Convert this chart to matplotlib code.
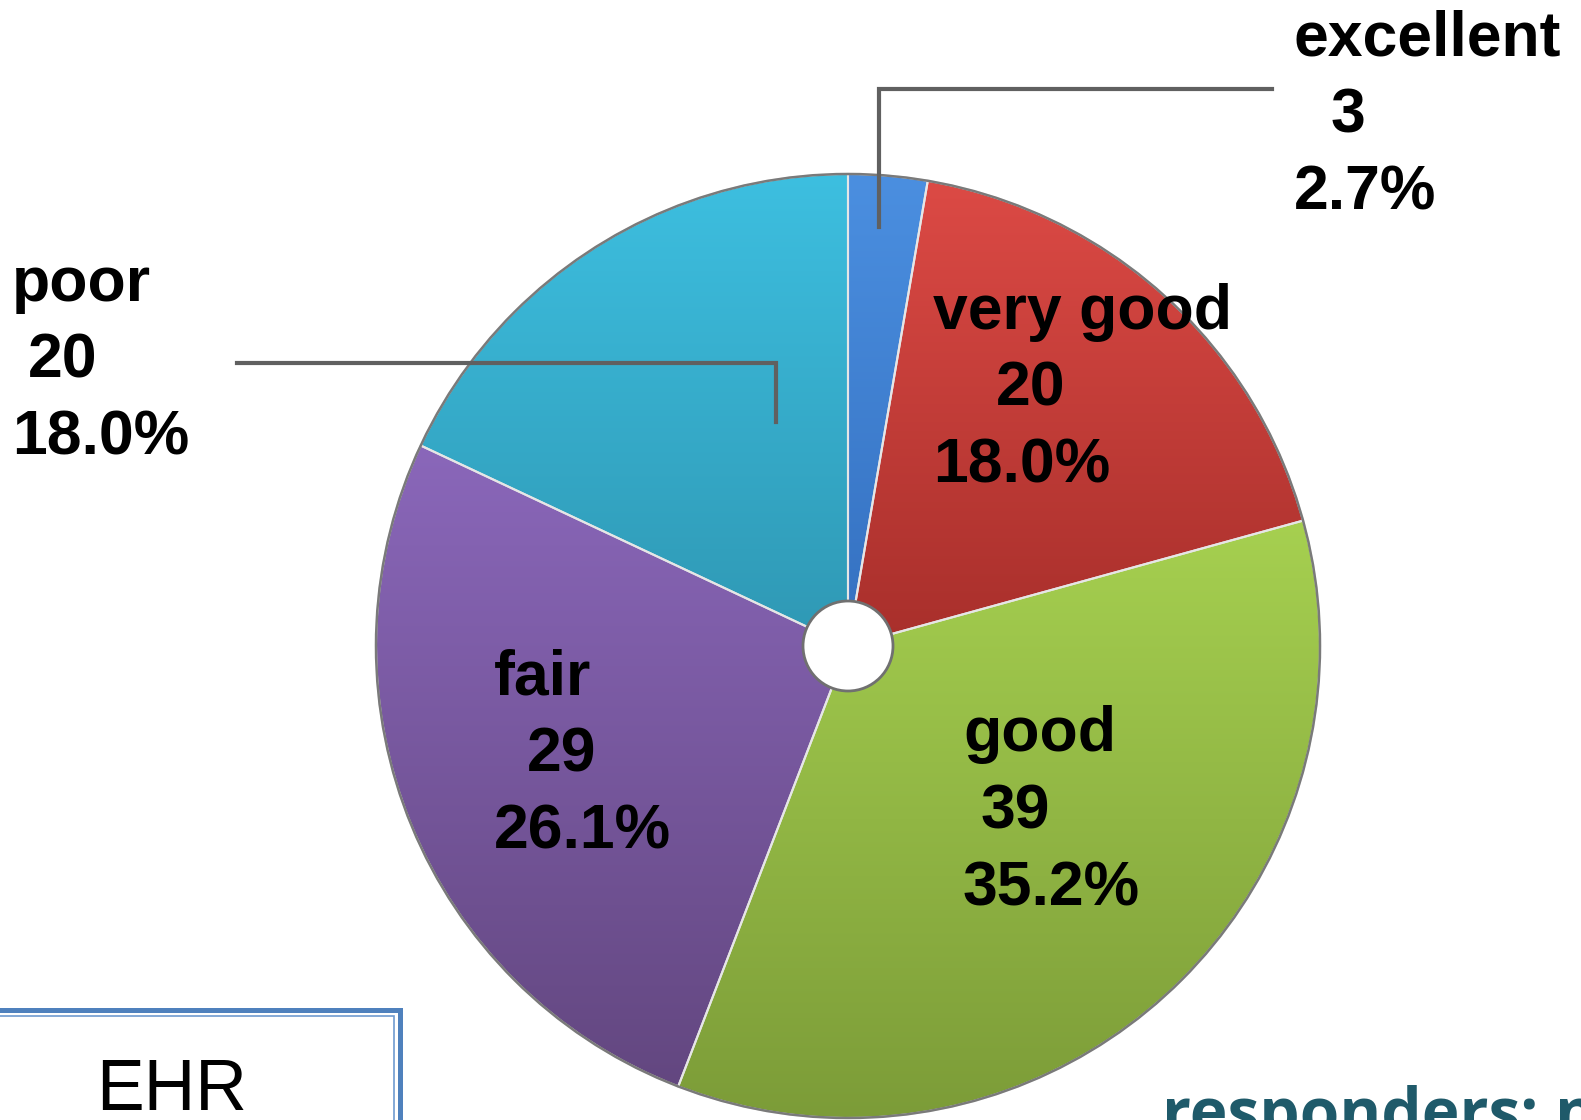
import matplotlib.pyplot as plt
import numpy as np
from matplotlib.colors import LinearSegmentedColormap
from matplotlib.patches import Circle, Rectangle

categories = ["excellent", "very good", "good", "fair", "poor"]
counts = [3, 20, 39, 29, 20]
percents = [2.7, 18.0, 35.2, 26.1, 18.0]
# light (top) / dark (bottom) shade of each slice
top_colors = ["#4b8fe0", "#dc4a45", "#a6d050", "#8a67ba", "#3dbfe0"]
bottom_colors = ["#3470c0", "#a82f2b", "#7c9c38", "#634780", "#2f98b4"]

W, H = 1581, 1120
plt.rcParams['font.family'] = ['Liberation Sans', 'DejaVu Sans']


def Y(y):
    # picture rows (top-down) to axis coords (bottom-up)
    return H - y


fig = plt.figure(figsize=(W / 100, H / 100), dpi=100)
ax = fig.add_axes([0, 0, 1, 1])

cx, cy, r = 848, Y(646), 472
wedges, _ = ax.pie(counts, startangle=90, counterclock=False, center=(cx, cy),
                   radius=r, colors=top_colors,
                   wedgeprops=dict(edgecolor="#e6e6e6", linewidth=1.5))
ax.set_xlim(0, W)
ax.set_ylim(0, H)
ax.set_aspect("equal")
ax.axis("off")

# vertical shading on each slice, from its own top to its own bottom
grad = np.linspace(0, 1, 256).reshape(-1, 1)
for w, c1, c2 in zip(wedges, top_colors, bottom_colors):
    bb = w.get_path().get_extents()
    cmap = LinearSegmentedColormap.from_list("g", [c2, c1])
    im = ax.imshow(grad, cmap=cmap, origin="lower", aspect="auto",
                   extent=(bb.x0, bb.x1, bb.y0, bb.y1), zorder=1.5)
    im.set_clip_path(w)
    w.set_facecolor("none")
    w.set_zorder(2)

ax.add_patch(Circle((cx, cy), r, fill=False, edgecolor="#7a7a7a", lw=1.8, zorder=3))
ax.add_patch(Circle((cx, cy), 45, facecolor="white", edgecolor="#707070", lw=2, zorder=4))

# leader lines
ax.plot([879, 879, 1272], [Y(227), Y(89), Y(89)], color="#606060", lw=3, zorder=5,
        solid_joinstyle="miter")
ax.plot([776, 776, 237], [Y(422), Y(363), Y(363)], color="#606060", lw=3, zorder=5,
        solid_joinstyle="miter")

# label positions: (x of name / percent, x of count, y of first line)
label_pos = [(1294, 1331, 39), (933, 996, 312), (963, 981, 735),
             (494, 527, 678), (12, 28, 284)]
step = 77
for cat, n, p, (x0, x1, y0) in zip(categories, counts, percents, label_pos):
    kw = dict(fontsize=45, fontweight="bold", color="black", va="center",
              ha="left", zorder=6)
    ax.text(x0, Y(y0), cat, **kw)
    ax.text(x1, Y(y0 + step), str(n), **kw)
    ax.text(x0, Y(y0 + 2 * step), f"{p:.1f}%", **kw)

# EHR box at bottom left (cut by the lower edge, as in the source)
ax.add_patch(Rectangle((-20, Y(1200)), 420, 1200 - 1010, fill=False,
                       edgecolor="#4f81bd", lw=3.6, zorder=6))
ax.add_patch(Rectangle((-20, Y(1200)), 414, 1200 - 1015.5, fill=False,
                       edgecolor="#6f9bd0", lw=1.2, zorder=6))
ax.text(172, Y(1110), "EHR", fontsize=51.5, color="black", ha="center",
        va="baseline", zorder=7)

ax.text(1162, Y(1134), "responders: n=111", fontsize=46, fontweight="bold",
        color="#1f5a6a", family=["Open Sans", "DejaVu Sans"], ha="left",
        va="baseline", zorder=7)

fig.savefig("out.png", dpi=100)
